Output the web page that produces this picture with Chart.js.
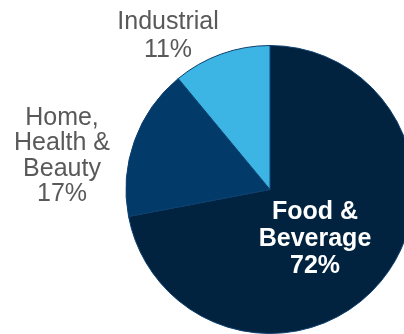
<!DOCTYPE html>
<html>
<head>
<meta charset="utf-8">
<script src="https://cdn.jsdelivr.net/npm/chart.js@4"></script>
<style>
  html, body { margin: 0; padding: 0; background: #fff; overflow: hidden; }
  #wrap { width: 540px; height: 334px; position: relative; }
</style>
</head>
<body>
<div id="wrap"><canvas id="pieCanvas"></canvas></div>
<script>
// Datos del grafico
const categorias = ['Food &\nBeverage', 'Home,\nHealth &\nBeauty', 'Industrial'];
const porcentajes = [72, 17, 11];
const colores = ['#02233f', '#023b69', '#3db5e4'];

// Posicion de cada etiqueta respecto al centro del pie (px), color y peso
const estiloEtiquetas = [
  { dx: 45, dy: 29, lh: 27, color: '#ffffff', bold: true },
  { dx: -208, dy: -65, lh: 25.5, color: '#595959', bold: false },
  { dx: -102, dy: -161, lh: 28, color: '#595959', bold: false }
];

// Plugin simple para dibujar las etiquetas
const etiquetasPlugin = {
  id: 'etiquetas',
  afterDatasetsDraw(chart) {
    const ctx = chart.ctx;
    const meta = chart.getDatasetMeta(0);
    meta.data.forEach((arc, i) => {
      const est = estiloEtiquetas[i];
      const lineas = categorias[i].split('\n').concat([porcentajes[i] + '%']);
      ctx.save();
      ctx.font = (est.bold ? 'bold ' : '') + '25px "Liberation Sans", Arial, sans-serif';
      ctx.fillStyle = est.color;
      ctx.textAlign = 'center';
      ctx.textBaseline = 'alphabetic';
      lineas.forEach((l, k) => {
        ctx.fillText(l, arc.x + est.dx, arc.y + est.dy + k * est.lh);
      });
      ctx.restore();
    });
  }
};

const ctx = document.getElementById('pieCanvas').getContext('2d');
const chart = new Chart(ctx, {
  type: 'pie',
  data: {
    labels: categorias,
    datasets: [{
      data: porcentajes,
      backgroundColor: colores,
      borderColor: '#0d3f6e',
      borderWidth: 1
    }]
  },
  options: {
    responsive: true,
    maintainAspectRatio: false,
    animation: false,
    layout: { padding: { left: 125, right: 125, top: 45, bottom: 0 } },
    plugins: {
      legend: { display: false },
      tooltip: { enabled: false }
    }
  },
  plugins: [etiquetasPlugin]
});
</script>
</body>
</html>
